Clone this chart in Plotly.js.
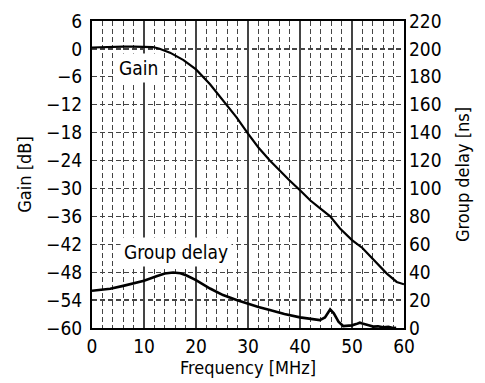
<!DOCTYPE html>
<html>
<head>
<meta charset="utf-8">
<script src="https://cdn.plot.ly/plotly-3.0.1.min.js"></script>
<style>
html,body{margin:0;padding:0;background:#fff;}
#chart{width:485px;height:383px;}
</style>
</head>
<body>
<div id="chart"></div>
<script>
// Gain curve (left axis, dB)
const freqGain = [0, 2, 4, 6, 8, 10, 11.7, 13, 15, 17.6, 20, 22.7, 25.2, 27.8, 30, 32, 34.2, 36, 38, 40, 42, 44, 45.8, 47.7, 50, 52, 54, 56.7, 58.6, 60];
const gain = [0.3, 0.4, 0.5, 0.5, 0.5, 0.5, 0.4, 0.05, -0.8, -2.4, -4.4, -7.6, -11.1, -14.7, -18.2, -21.2, -24.0, -26.1, -28.3, -30.4, -32.6, -34.4, -36.0, -38.6, -41.1, -42.8, -45.2, -48.3, -50.1, -50.6];

// Group delay curve (right axis, ns)
const freqDelay = [0, 1.5, 3.5, 6, 8, 10, 12.4, 14, 15.6, 17, 18.2, 20, 22.7, 25.2, 27.8, 30, 32, 34.2, 37, 40, 42, 43.8, 44.8, 45.3, 45.8, 46.5, 47.4, 48.3, 49, 50, 50.8, 51.5, 52, 52.5, 53.2, 54.1, 55, 56, 57, 57.9, 58.5];
const delay = [26.7, 27.1, 28.1, 30.2, 31.8, 33.8, 37.1, 39.0, 39.8, 39.2, 37.6, 34.3, 28.3, 23.6, 20.0, 17.3, 15.0, 12.9, 10.0, 7.6, 6.5, 5.7, 7.6, 10.8, 13.3, 10.5, 4.5, 1.4, 1.6, 1.9, 2.8, 3.8, 3.2, 2.9, 2.0, 1.0, 1.2, 0.5, 0.8, 0.0, 0.2];

// Tick labels
const gainTicks = [6, 0, -6, -12, -18, -24, -30, -36, -42, -48, -54, -60];
const delayTicks = [0, 20, 40, 60, 80, 100, 120, 140, 160, 180, 200, 220];
const freqTicks = [0, 10, 20, 30, 40, 50, 60];

const FONT = "'Liberation Sans Narrow', 'Arial Narrow', 'DejaVu Sans Condensed', sans-serif";
const GRID = '#444';

const traces = [
  {x: freqGain, y: gain, type: 'scatter', mode: 'lines', name: 'Gain',
   line: {color: '#000', width: 2.2}, xaxis: 'x', yaxis: 'y', hoverinfo: 'skip'},
  {x: freqDelay, y: delay, type: 'scatter', mode: 'lines', name: 'Group delay',
   line: {color: '#000', width: 2.6}, xaxis: 'x', yaxis: 'y2', hoverinfo: 'skip'}
];

const layout = {
  width: 485, height: 383,
  margin: {l: 92, r: 81, t: 21, b: 55},
  paper_bgcolor: '#fff', plot_bgcolor: '#fff',
  showlegend: false,
  font: {family: FONT, size: 19, color: '#000'},
  xaxis: {
    range: [0, 60], tickvals: freqTicks, ticktext: freqTicks.map(String),
    showgrid: true, gridcolor: GRID, gridwidth: 1.3,
    minor: {dtick: 2, tick0: 0, showgrid: true, gridcolor: GRID, gridwidth: 1.2, griddash: '5px,3px', ticks: ''},
    showline: true, mirror: true, linecolor: '#000', linewidth: 2,
    ticks: '', zeroline: false,
    tickfont: {family: FONT, size: 19},
    title: {text: 'Frequency [MHz]', font: {family: FONT, size: 18}, standoff: 4}
  },
  yaxis: {
    range: [-60, 6], tickvals: gainTicks, ticktext: gainTicks.map(v => v < 0 ? '\u2212' + Math.abs(v) : String(v)),
    showgrid: true, gridcolor: GRID, gridwidth: 1.2, griddash: '5px,3px',
    showline: true, mirror: true, linecolor: '#000', linewidth: 2,
    ticks: '', zeroline: false, ticklabelstandoff: 4,
    tickfont: {family: FONT, size: 19},
    title: {text: 'Gain [dB]', font: {family: FONT, size: 18}, standoff: 10}
  },
  yaxis2: {
    range: [0, 220], tickvals: delayTicks, ticktext: delayTicks.map(String),
    overlaying: 'y', side: 'right', showgrid: false, zeroline: false,
    showline: false, ticks: '', ticklabelstandoff: 4,
    tickfont: {family: FONT, size: 19},
    title: {text: 'Group delay [ns]', font: {family: FONT, size: 18}, standoff: 15}
  },
  annotations: [
    {x: 8.9, y: -4.1, xref: 'x', yref: 'y', text: 'Gain', showarrow: false,
     font: {family: FONT, size: 19, color: '#000'}, bgcolor: '#fff', borderpad: 3},
    {x: 16.1, y: -43.6, xref: 'x', yref: 'y', text: 'Group delay', showarrow: false,
     font: {family: FONT, size: 19, color: '#000'}, bgcolor: '#fff', borderpad: 3}
  ]
};

Plotly.newPlot('chart', traces, layout, {displayModeBar: false, staticPlot: true});
</script>
</body>
</html>
